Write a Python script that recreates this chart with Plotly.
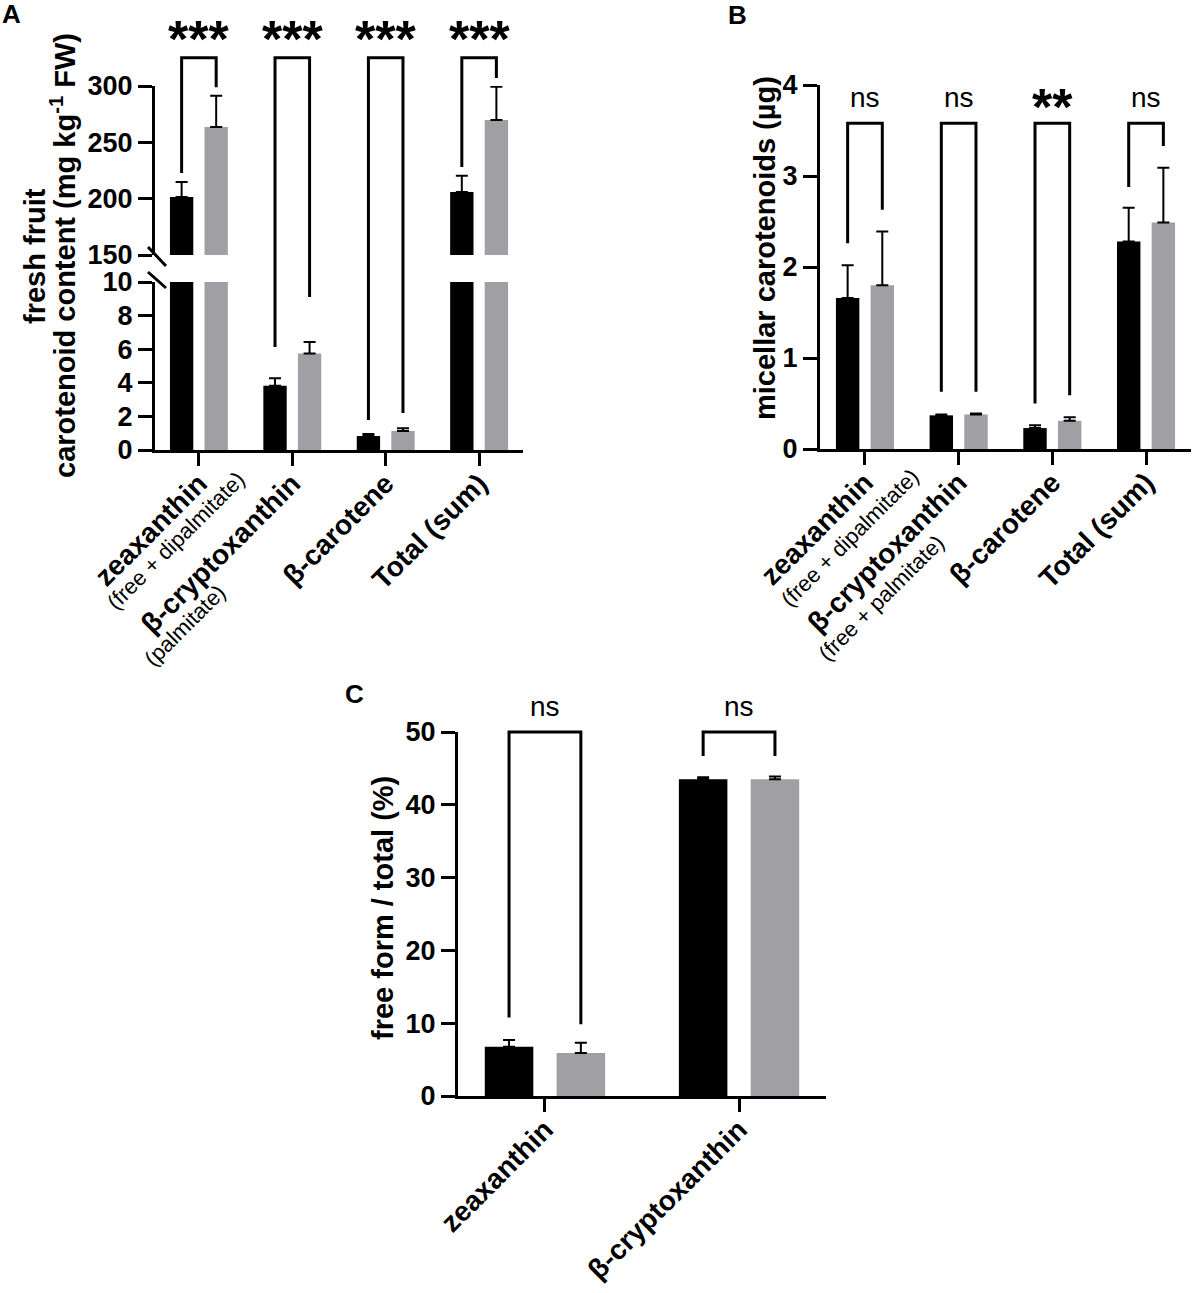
import plotly.graph_objects as go

W, H = 1194, 1293
FONT = "Liberation Sans, Arial, sans-serif"
BLACK = "#000000"
GRAY = "#a0a0a4"

# ---------------- data ----------------
# Panel A: fresh fruit carotenoid content (mg kg-1 FW)
a_labels = ["zeaxanthin", "β-cryptoxanthin", "β-carotene", "Total (sum)"]
a_sublabels = ["(free + dipalmitate)", "(palmitate)", "", ""]
a_black = [201.5, 3.83, 0.83, 205.9]
a_black_sd = [13.3, 0.44, 0.12, 14.5]
a_gray = [263.6, 5.75, 1.13, 269.8]
a_gray_sd = [27.8, 0.68, 0.16, 29.6]
a_sig = ["***", "***", "***", "***"]
a_leg_left = [222.8, 6.13, 1.79, 228.0]
a_leg_right = [299.0, 9.1, 2.2, 307.0]
a_bracket_top = 325.0

# Panel B: micellar carotenoids (µg)
b_labels = ["zeaxanthin", "β-cryptoxanthin", "β-carotene", "Total (sum)"]
b_sublabels = ["(free + dipalmitate)", "(free + palmitate)", "", ""]
b_black = [1.66, 0.37, 0.23, 2.28]
b_black_sd = [0.36, 0.01, 0.03, 0.37]
b_gray = [1.80, 0.38, 0.31, 2.49]
b_gray_sd = [0.59, 0.01, 0.04, 0.60]
b_sig = ["ns", "ns", "**", "ns"]
b_leg_left = [2.26, 0.63, 0.50, 2.88]
b_leg_right = [2.63, 0.63, 0.59, 3.33]
b_bracket_top = 3.58

# Panel C: free form / total (%)
c_labels = ["zeaxanthin", "β-cryptoxanthin"]
c_black = [6.77, 43.5]
c_black_sd = [0.93, 0.3]
c_gray = [5.9, 43.5]
c_gray_sd = [1.4, 0.4]
c_sig = ["ns", "ns"]
c_leg_left = [10.8, 46.7]
c_leg_right = [9.85, 46.7]
c_bracket_top = 50.0

# ---------------- layout geometry (pixels) ----------------
BW = 0.25          # bar width (category units)
OFF_B = -0.31      # black bar offset
OFF_G = 0.06       # gray bar offset
CB = OFF_B + BW / 2  # black bar centre
CG = OFF_G + BW / 2  # gray bar centre

A_X = (155, 523); A_XR = [-0.47, 3.47]
A_LO = (450, 282); A_LOR = [0, 10]
A_UP = (255, 86); A_UPR = [150, 300]
B_X = (820, 1191); B_XR = [-0.48, 3.48]
B_Y = (449, 85); B_YR = [0, 4]
C_X = (458, 826); C_XR = [-0.448, 1.448]
C_Y = (1096, 732); C_YR = [0, 50]

# pixel shifts of the small second label lines relative to their tick
A_SUB_SHIFT = [(54, -14), (-59, -127)]
B_SUB_SHIFT = [(62, -12), (-6, -78)]


def fx(px):
    return px / W


def fy(py):
    return 1 - py / H


def dom(a, b):
    return [max(0.0, min(1.0, a)), max(0.0, min(1.0, b))]


def lin(v, r, p):
    return p[0] + (v - r[0]) / (r[1] - r[0]) * (p[1] - p[0])


def a_py(v):
    if v >= A_UPR[0]:
        return lin(v, A_UPR, A_UP)
    return lin(v, A_LOR, A_LO)


fig = go.Figure()


def err(sd):
    return dict(type="data", symmetric=False, array=sd, arrayminus=[0] * len(sd),
                color=BLACK, thickness=2, width=6)


def add_bars(xa, ya, black, bsd, gray, gsd):
    n = list(range(len(black)))
    fig.add_trace(go.Bar(x=n, y=black, width=BW, offset=OFF_B, marker=dict(color=BLACK, line=dict(width=0)),
                         error_y=err(bsd), xaxis=xa, yaxis=ya, showlegend=False))
    fig.add_trace(go.Bar(x=n, y=gray, width=BW, offset=OFF_G, marker=dict(color=GRAY, line=dict(width=0)),
                         error_y=err(gsd), xaxis=xa, yaxis=ya, showlegend=False))


add_bars("x", "y", a_black, a_black_sd, a_gray, a_gray_sd)      # A lower segment
add_bars("x2", "y2", a_black, a_black_sd, a_gray, a_gray_sd)    # A upper segment
add_bars("x3", "y3", b_black, b_black_sd, b_gray, b_gray_sd)    # B
add_bars("x4", "y4", c_black, c_black_sd, c_gray, c_gray_sd)    # C

ytickfont = dict(family=FONT, size=27, color=BLACK, weight="bold")
xtickfont = dict(family=FONT, size=28, color=BLACK, weight="bold")
common_y = dict(showgrid=False, zeroline=False, showline=True, linewidth=3, linecolor=BLACK,
                ticks="outside", ticklen=14, tickwidth=3, tickcolor=BLACK, tickfont=ytickfont,
                automargin=False)
common_x = dict(showgrid=False, zeroline=False, showline=True, linewidth=3, linecolor=BLACK,
                ticks="outside", ticklen=13, tickwidth=3, tickcolor=BLACK, tickfont=xtickfont,
                tickangle=-45, automargin=False, ticklabelstandoff=-10)

fig.update_layout(
    template="none",
    width=W, height=H, margin=dict(l=0, r=0, t=0, b=0, pad=0, autoexpand=False),
    paper_bgcolor="white", plot_bgcolor="white", barmode="overlay",
    font=dict(family=FONT, color=BLACK),
    xaxis=dict(domain=dom(fx(A_X[0]), fx(A_X[1])), range=A_XR, tickvals=list(range(4)), ticktext=a_labels,
               anchor="y", **common_x),
    yaxis=dict(domain=dom(fy(A_LO[0]), fy(A_LO[1])), range=A_LOR, tickvals=[0, 2, 4, 6, 8, 10],
               anchor="x", **common_y),
    xaxis2=dict(domain=dom(fx(A_X[0]), fx(A_X[1])), range=A_XR, matches="x", visible=False, anchor="y2",
                automargin=False),
    yaxis2=dict(domain=dom(fy(A_UP[0]), fy(A_UP[1])), range=A_UPR, tickvals=[150, 200, 250, 300],
                anchor="x2", **common_y),
    xaxis3=dict(domain=dom(fx(B_X[0]), fx(B_X[1])), range=B_XR, tickvals=list(range(4)), ticktext=b_labels,
                anchor="y3", **common_x),
    yaxis3=dict(domain=dom(fy(B_Y[0]), fy(B_Y[1])), range=B_YR, tickvals=[0, 1, 2, 3, 4], anchor="x3",
                **common_y),
    xaxis4=dict(domain=dom(fx(C_X[0]), fx(C_X[1])), range=C_XR, tickvals=list(range(2)), ticktext=c_labels,
                anchor="y4", **common_x),
    yaxis4=dict(domain=dom(fy(C_Y[0]), fy(C_Y[1])), range=C_YR, tickvals=[0, 10, 20, 30, 40, 50],
                anchor="x4", **common_y),
)

shapes = []
annots = []
LINE = dict(color=BLACK, width=3)


def bracket(xdom, xr, i, y_left, y_right, y_top, sig, txt_py, star):
    x0 = (i + CB - xr[0]) / (xr[1] - xr[0])
    x1 = (i + CG - xr[0]) / (xr[1] - xr[0])
    X0 = xdom[0] + x0 * (xdom[1] - xdom[0])
    X1 = xdom[0] + x1 * (xdom[1] - xdom[0])
    path = f"M {fx(X0)},{fy(y_left)} L {fx(X0)},{fy(y_top)} L {fx(X1)},{fy(y_top)} L {fx(X1)},{fy(y_right)}"
    shapes.append(dict(type="path", path=path, xref="paper", yref="paper", line=LINE))
    fsz = 52 if star else 28
    annots.append(dict(x=fx((X0 + X1) / 2), y=fy(txt_py), xref="paper", yref="paper", text=sig,
                       showarrow=False, xanchor="center", yanchor="middle",
                       font=dict(family=FONT, size=fsz, color=BLACK,
                                 weight="bold" if star else "normal")))


for i, s in enumerate(a_sig):
    bracket(A_X, A_XR, i, a_py(a_leg_left[i]), a_py(a_leg_right[i]), a_py(a_bracket_top), s, 39, "*" in s)
for i, s in enumerate(b_sig):
    bracket(B_X, B_XR, i, lin(b_leg_left[i], B_YR, B_Y), lin(b_leg_right[i], B_YR, B_Y),
            lin(b_bracket_top, B_YR, B_Y), s, 107 if "*" in s else 97, "*" in s)
for i, s in enumerate(c_sig):
    bracket(C_X, C_XR, i, lin(c_leg_left[i], C_YR, C_Y), lin(c_leg_right[i], C_YR, C_Y),
            lin(c_bracket_top, C_YR, C_Y), s, 706, "*" in s)

# axis-break marks on panel A
for (x0, y0, x1, y1) in [(148, 247, 166, 266), (148, 272, 166, 288)]:
    shapes.append(dict(type="line", x0=fx(x0), y0=fy(y0), x1=fx(x1), y1=fy(y1),
                       xref="paper", yref="paper", line=LINE))

# small second lines of the category labels
subfont = dict(family=FONT, size=22, color=BLACK, weight="normal")
for xa, subs, shifts, axis_py in [("x", a_sublabels, A_SUB_SHIFT, A_LO[0]),
                                  ("x3", b_sublabels, B_SUB_SHIFT, B_Y[0])]:
    for i, t in enumerate(subs):
        if not t:
            continue
        annots.append(dict(x=i, xref=xa, y=fy(axis_py), yref="paper", text=t, textangle=-45,
                           xanchor="right", yanchor="top", xshift=shifts[i][0], yshift=shifts[i][1],
                           font=subfont))

title_font = dict(family=FONT, size=29, color=BLACK, weight="bold")
annots += [
    dict(x=fx(35), y=fy(256), text="fresh fruit", textangle=-90, font=title_font),
    dict(x=fx(63), y=fy(256), text="carotenoid content (mg kg<sup>-1</sup> FW)", textangle=-90, font=title_font),
    dict(x=fx(765), y=fy(248), text="micellar carotenoids (µg)", textangle=-90, font=title_font),
    dict(x=fx(383), y=fy(908), text="free form / total (%)", textangle=-90, font=title_font),
]
for t, x, y in [("A", 11, 14), ("B", 737, 15), ("C", 354, 694)]:
    annots.append(dict(x=fx(x), y=fy(y), text=t, font=dict(family=FONT, size=26, color=BLACK, weight="bold")))

for a in annots:
    a.setdefault("xref", "paper")
    a.setdefault("yref", "paper")
    a.setdefault("showarrow", False)
    a.setdefault("xanchor", "center")
    a.setdefault("yanchor", "middle")

fig.update_layout(shapes=shapes, annotations=annots)
fig.write_html("out.html", config={"displayModeBar": False},
               post_script="document.body.style.margin='0';document.body.style.overflow='hidden';")
